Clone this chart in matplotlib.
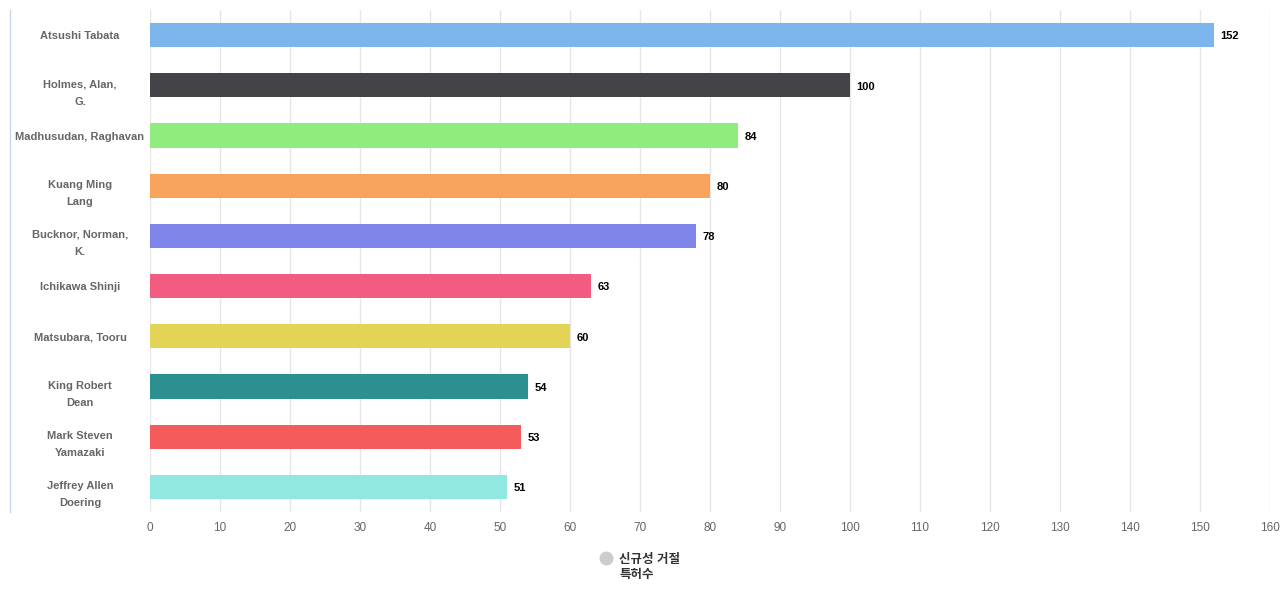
import matplotlib
matplotlib.use("Agg")
import matplotlib.pyplot as plt
from matplotlib.lines import Line2D
import numpy as np

plt.rcParams['font.family'] = ['Liberation Sans', 'Noto Sans CJK KR', 'DejaVu Sans']

# data
names = ["Atsushi Tabata", "Holmes, Alan,\nG.", "Madhusudan, Raghavan", "Kuang Ming\nLang",
         "Bucknor, Norman,\nK.", "Ichikawa Shinji", "Matsubara, Tooru", "King Robert\nDean",
         "Mark Steven\nYamazaki", "Jeffrey Allen\nDoering"]
counts = [152, 100, 84, 80, 78, 63, 60, 54, 53, 51]
colors = ["#7cb5ec", "#434348", "#90ed7d", "#f7a35c", "#8085e9",
          "#f15c80", "#e4d354", "#2b908f", "#f45b5b", "#91e8e1"]
xticks = list(range(0, 161, 10))
legend_label = "신규성 거절\n특허수"

W, H = 1280, 600
fig = plt.figure(figsize=(W / 100, H / 100), dpi=100)
ax = fig.add_axes([150 / W, 1 - 512 / H, 1120 / W, 502 / H])

y = np.arange(len(names))
ax.barh(y, counts, height=0.48, color=colors, zorder=3)
ax.set_ylim(len(names) - 0.5, -0.5)
ax.set_xlim(0, 160)

# grid + ticks
ax.set_xticks(xticks)
ax.set_xticklabels([str(t) for t in xticks], color="#666666", fontsize=8.5)
ax.tick_params(axis="x", length=0, pad=7.5)
ax.grid(axis="x", color="#e6e6e6", linewidth=1, zorder=0)
ax.set_yticks([])
for s in ax.spines.values():
    s.set_visible(False)

# category labels centred left of the plot (two-line labels sit a bit lower)
for i, n in enumerate(names):
    dy = -5.5 if "\n" in n else -1
    ax.annotate(n, (-70 / 1120, i), xycoords=ax.get_yaxis_transform(), xytext=(0, dy),
                textcoords="offset points", ha="center", va="center",
                fontsize=8, fontweight="bold", color="#666666", linespacing=1.9)

# value labels
for i, v in enumerate(counts):
    ax.annotate(str(v), (v, i), xytext=(4.5, -1), textcoords="offset points", ha="left", va="center",
                fontsize=8, fontweight="bold", color="#000000")

# left axis line
fig.add_artist(Line2D([9.5 / W, 9.5 / W], [1 - 10 / H, 1 - 512 / H], color="#ccd6eb", linewidth=1))

# legend
fig.add_artist(Line2D([606 / W], [1 - 558 / H], marker="o", markersize=9, color="#cccccc", linestyle="none"))
fig.text(619 / W, 1 - 567.5 / H, legend_label, ha="left", va="center", fontsize=9, fontweight="bold",
         color="#333333", linespacing=1.3)

fig.savefig("out.png", dpi=100)
